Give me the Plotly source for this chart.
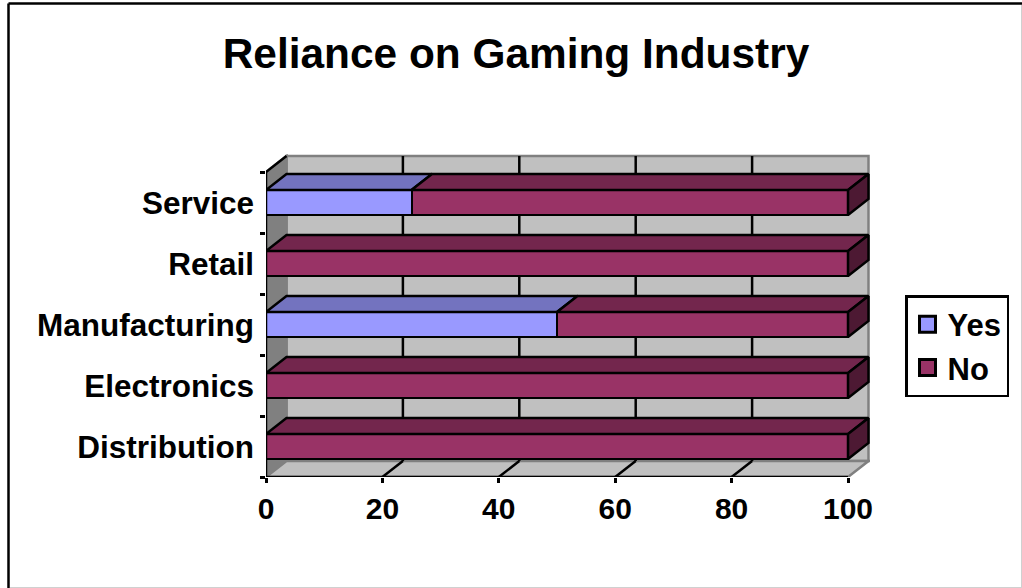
import plotly.graph_objects as go

categories = ["Distribution", "Electronics", "Manufacturing", "Retail", "Service"]
yes_values = [0, 0, 50, 0, 25]
no_values = [100, 100, 50, 100, 75]
x_ticks = [0, 20, 40, 60, 80, 100]

W, H = 1022, 588
ML, MR, MT, MB = 266, 152, 154, 111
PW, PH = W - ML - MR, H - MT - MB
DX = 20.5 / 5.82     # depth in x units
DY = 16 / 61         # depth in y units
HALF = 12.5 / 61     # half bar thickness
Y0, Y1 = -0.5, len(categories) - 0.5
X_TOP = PW / 5.82
Y_TOP = Y1 + 18 / 61
LW = 2.5

YES, YES_TOP = "#9999FF", "#7373BF"
NO, NO_TOP, NO_SIDE = "#993366", "#73264D", "#4D1933"
GREY, DARK = "#C0C0C0", "#808080"


def px(v):
    return (v - ML) / PW


def py(v):
    return 1 - (v - MT) / PH


fig = go.Figure()
idx = list(range(len(categories)))


def poly(xs, ys, fill, name):
    fig.add_trace(go.Scatter(
        x=xs + xs[:1], y=ys + ys[:1], mode="lines", fill="toself", fillcolor=fill,
        line=dict(color="black", width=LW), hoverinfo="skip", showlegend=False,
        name=name, cliponaxis=False))


def wall(xs, ys, fill, edge):
    path = "M " + " L ".join(f"{a},{b}" for a, b in zip(xs, ys)) + " Z"
    fig.add_shape(type="path", path=path, xref="x", yref="y", layer="below",
                  fillcolor=fill, line=dict(color=edge, width=2.5))


# walls and floor
wall([DX, 100 + DX, 100 + DX, DX], [Y0 + DY, Y0 + DY, Y1 + DY, Y1 + DY], GREY, DARK)
wall([0, DX, DX, 0], [Y0, Y0 + DY, Y1 + DY, Y1], DARK, DARK)
wall([0, 100, 100 + DX, DX], [Y0, Y0, Y0 + DY, Y0 + DY], GREY, DARK)

# grid on back wall and floor
for t in x_ticks[1:-1]:
    fig.add_shape(type="line", xref="x", yref="y", layer="below", x0=t + DX, x1=t + DX,
                  y0=Y0 + DY, y1=Y1 + DY, line=dict(color="black", width=LW))
    fig.add_shape(type="line", xref="x", yref="y", layer="below", x0=t, x1=t + DX,
                  y0=Y0, y1=Y0 + DY, line=dict(color="black", width=LW))

# front faces
fig.add_trace(go.Bar(y=idx, x=yes_values, orientation="h", width=2 * HALF, name="Yes",
                     marker=dict(color=YES, line=dict(color="black", width=LW)), showlegend=False))
fig.add_trace(go.Bar(y=idx, x=no_values, orientation="h", width=2 * HALF, name="No",
                     marker=dict(color=NO, line=dict(color="black", width=LW)), showlegend=False))

# top and side faces, back to front
for i in reversed(idx):
    top = i + HALF
    bot = i - HALF
    a = yes_values[i]
    b = a + no_values[i]
    if a > 0:
        poly([0, a, a + DX, DX], [top, top, top + DY, top + DY], YES_TOP, "Yes top")
    poly([a, b, b + DX, a + DX], [top, top, top + DY, top + DY], NO_TOP, "No top")
    poly([b, b + DX, b + DX, b], [bot, bot + DY, top + DY, top], NO_SIDE, "No side")

# axis lines and the top edge of the left wall
for xs, ys in [([0, 100], [Y0, Y0]), ([0, 0], [Y0, Y1]), ([0, DX], [Y1, Y1 + DY])]:
    fig.add_trace(go.Scatter(x=xs, y=ys, mode="lines", line=dict(color="black", width=LW),
                             hoverinfo="skip", showlegend=False, cliponaxis=False))

# legend keys
for name, col in [("Yes", YES), ("No", NO)]:
    fig.add_trace(go.Scatter(x=[None], y=[None], mode="markers", name=name,
                             marker=dict(symbol="square", size=22, color=col,
                                         line=dict(color="black", width=3))))

# chart frame
for x0, y0, x1, y1, col, w in [
    (8.5, 3.5, 8.5, 588, "black", 2.5),
    (8.5, 3.5, 1022, 3.5, "black", 2.5),
    (1021.5, 5, 1021.5, 588, "#D0D0D0", 1),
    (10, 587.5, 1022, 587.5, "#D0D0D0", 1),
]:
    fig.add_shape(type="line", xref="paper", yref="paper", layer="above",
                  x0=px(x0), x1=px(x1), y0=py(y0), y1=py(y1), line=dict(color=col, width=w))

FAM = "Liberation Sans, Arial, sans-serif"
fig.update_layout(
    width=W, height=H, autosize=False,
    margin=dict(l=ML, r=MR, t=MT, b=MB, pad=0),
    paper_bgcolor="white", plot_bgcolor="white",
    barmode="stack", bargap=0,
    title=dict(text="Reliance on Gaming Industry", x=516 / W, xref="container", xanchor="center",
               y=1 - 53 / H, yanchor="middle", yref="container",
               font=dict(size=42.4, family=FAM, color="black", weight=700)),
    xaxis=dict(range=[0, X_TOP], tickmode="array", tickvals=x_ticks,
               ticktext=[str(t) for t in x_ticks], ticks="outside", ticklen=5, tickwidth=LW,
               tickcolor="black", showgrid=False, zeroline=False, showline=False,
               tickfont=dict(size=30, family=FAM, color="black", weight=700), ticklabelstandoff=0),
    yaxis=dict(range=[Y0, Y_TOP], tickmode="array", tickvals=idx, ticktext=categories,
               ticks="", showgrid=False, zeroline=False, showline=False,
               tickfont=dict(size=31.5, family=FAM, color="black", weight=700), ticklabelstandoff=11,
               minor=dict(tickmode="array", tickvals=[v - 0.5 for v in idx] + [Y1], ticks="outside",
                          ticklen=5, tickwidth=LW, tickcolor="black", showgrid=False)),
    legend=dict(x=px(905), xanchor="left", y=py(295), yanchor="top", traceorder="normal",
                bgcolor="white", bordercolor="black", borderwidth=2.5,
                font=dict(size=31, family=FAM, color="black", weight=700),
                itemwidth=30, entrywidth=63, entrywidthmode="pixels"),
    showlegend=True,
)
fig.write_html("out.html", config={"displayModeBar": False},
               post_script="document.body.style.margin='0';document.body.style.overflow='hidden';")
